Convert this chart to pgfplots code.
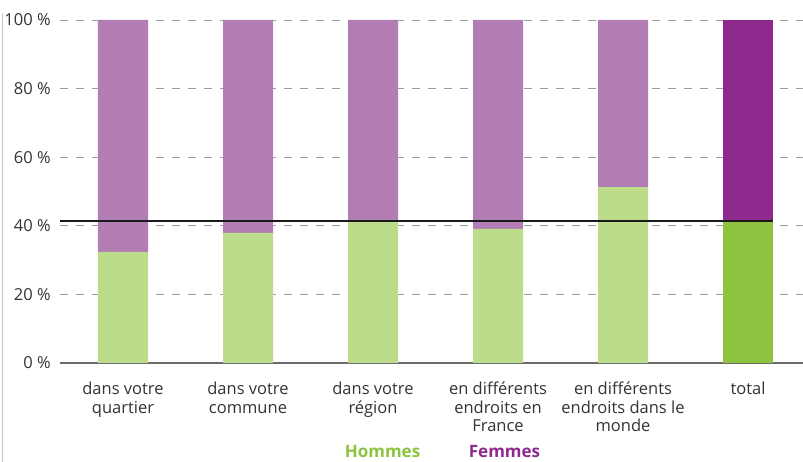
\documentclass[border=0pt]{standalone}
\usepackage{pgfplots}
\pgfplotsset{compat=1.18}
\usepackage{fontspec}
\setmainfont{Open Sans}
\definecolor{hlight}{HTML}{BDDC8B}
\definecolor{htotal}{HTML}{8DC33F}
\definecolor{flight}{HTML}{B27CB5}
\definecolor{ftotal}{HTML}{8E2A8E}
\definecolor{txt}{HTML}{333333}

\begin{document}
\begin{tikzpicture}
\useasboundingbox (-60pt,-99pt) rectangle (743pt,363pt);
\draw[gray!45, line width=1pt] (-57pt,-99pt) -- (-57pt,350pt);

\begin{axis}[
    at={(0pt,0pt)}, anchor=south west,
    scale only axis, width=743pt, height=343pt,
    xmin=-0.504, xmax=5.44, ymin=0, ymax=100,
    ybar stacked, bar width=50pt,
    axis x line=bottom, axis y line=left,
    x axis line style={-, draw=gray!85!black, line width=1.2pt},
    y axis line style={draw=none},
    tick style={draw=none},
    ymajorgrids,
    grid style={gray!75, line width=0.9pt, dash pattern=on 8pt off 8pt},
    ytick={0,20,40,60,80,100},
    yticklabels={0 \%,20 \%,40 \%,60 \%,80 \%,100 \%},
    yticklabel style={anchor=east, inner sep=0pt, xshift=-7pt, text=txt,
        font=\fontsize{16.5}{18}\selectfont},
    xtick={0,1,2,3,4,5},
    xticklabels={dans votre\\quartier, dans votre\\commune, dans votre\\région,
        en différents\\endroits en\\France, en différents\\endroits dans le\\monde, total},
    xticklabel style={align=center, anchor=north, inner sep=0pt, yshift=-17pt,
        text=txt, font=\fontsize{16.5}{18.5}\selectfont},
]
\addplot+[fill=hlight, draw=none] coordinates {(0,32.4) (1,37.9) (2,41.7) (3,39.1) (4,51.3) (5,0)};
\addplot+[fill=htotal, draw=none] coordinates {(0,0) (1,0) (2,0) (3,0) (4,0) (5,41.0)};
\addplot+[fill=flight, draw=none] coordinates {(0,67.6) (1,62.1) (2,58.3) (3,60.9) (4,48.7) (5,0)};
\addplot+[fill=ftotal, draw=none] coordinates {(0,0) (1,0) (2,0) (3,0) (4,0) (5,59.0)};
\end{axis}

\begin{axis}[
    at={(0pt,0pt)}, anchor=south west,
    scale only axis, width=743pt, height=343pt,
    xmin=-0.504, xmax=5.44, ymin=0, ymax=100,
    hide axis,
]
\addplot[black!90, line width=2pt, mark=none] coordinates {(-0.504,41.3) (5.2,41.3)};
\end{axis}

\node[anchor=base, text=htotal, font=\bfseries\fontsize{17}{20}\selectfont] at (322.5pt,-95pt) {Hommes};
\node[anchor=base, text=ftotal, font=\bfseries\fontsize{17}{20}\selectfont] at (444.5pt,-95pt) {Femmes};
\end{tikzpicture}
\end{document}
